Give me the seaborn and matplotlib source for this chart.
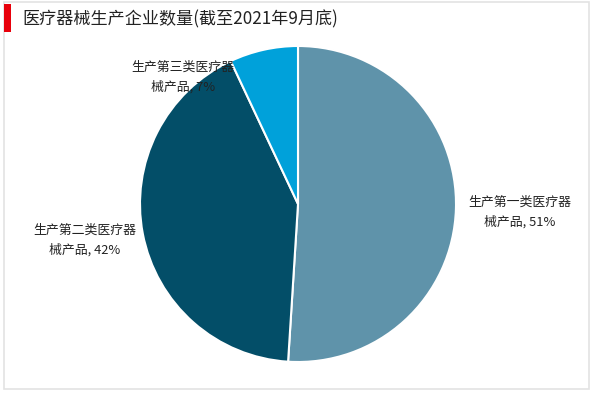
import matplotlib
matplotlib.use("Agg")
import matplotlib.pyplot as plt
import seaborn as sns
from matplotlib.patches import Rectangle

# ─────────────────────────────────────────
# DATA
# ─────────────────────────────────────────
TITLE      = "医疗器械生产企业数量(截至2021年9月底)"
categories = ["生产第一类医疗器\n械产品", "生产第二类医疗器\n械产品", "生产第三类医疗器\n械产品"]
shares     = [51, 42, 7]
colors     = ["#5F93AA", "#034E68", "#00A1DA"]

sns.set_theme(style="white")
plt.rcParams["font.family"] = ["Noto Sans CJK SC", "DejaVu Sans"]

fig = plt.figure(figsize=(6.0, 3.93), dpi=100)

# frame + red marker
fig.patches.append(Rectangle((4 / 600, 4 / 393), 585 / 600, 387 / 393, transform=fig.transFigure,
                             fill=False, edgecolor="#E3E3E3", linewidth=1.2))
fig.patches.append(Rectangle((4 / 600, 1 - 32 / 393), 7 / 600, 28 / 393, transform=fig.transFigure,
                             facecolor="#E8000B", edgecolor="none"))
fig.text(22 / 600, 1 - 19 / 393, TITLE, fontsize=12.3, va="center", ha="left", color="#222222")

# pie: centre ~(298, 204), radius ~158 px
r = 158
ax = fig.add_axes([(298 - r) / 600, 1 - (204 + r) / 393, 2 * r / 600, 2 * r / 393])
wedges, _ = ax.pie(shares, colors=colors, startangle=90, counterclock=False,
                   wedgeprops=dict(edgecolor="white", linewidth=1.5))
ax.set_aspect("equal")
ax.set_xlim(-1, 1); ax.set_ylim(-1, 1)

label_pos = [(520, 212), (85, 240), (183, 77)]
for (x, y), cat, val in zip(label_pos, categories, shares):
    fig.text(x / 600, 1 - y / 393, f"{cat}, {val}%", fontsize=9.3, ha="center", va="center",
             linespacing=1.6, color="#222222")

plt.savefig("out.png", dpi=100)
